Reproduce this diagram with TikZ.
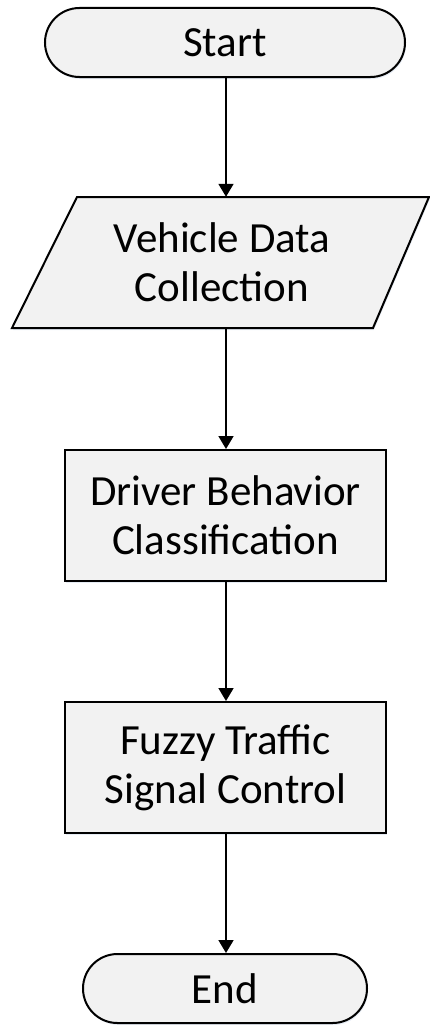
\documentclass[tikz,border=0pt]{standalone}
\usepackage{fontspec}
\setmainfont{Carlito}
\usetikzlibrary{arrows.meta,shadows}

\begin{document}
\begin{tikzpicture}[x=1pt,y=-1pt,
  every node/.style={font=\fontsize{43}{49}\selectfont, align=center, inner sep=0pt},
  softshadow/.style={drop shadow={shadow xshift=1pt, shadow yshift=-2pt, fill=shadowtint, opacity=0.35}},
  shapeline/.style={draw=black, line width=2pt, fill=boxfill, softshadow},
  terminal/.style={shapeline, rounded corners=34.5pt, minimum height=69pt},
  process/.style={shapeline, minimum width=321pt, minimum height=131pt},
  flow/.style={draw=black, line width=1.8pt, -{Triangle[width=15pt,length=13pt]}}
]
\definecolor{boxfill}{HTML}{F2F2F2}
\definecolor{shadowtint}{HTML}{B8C8E0}
\useasboundingbox (0,0) rectangle (430,1025);

% terminals and process boxes
\node[terminal, minimum width=360pt] (start) at (225,42.5) {Start};

% input/output parallelogram
\coordinate (pTL) at (77,197);
\coordinate (pTR) at (429,197);
\coordinate (pBR) at (373,328);
\coordinate (pBL) at (12,328);
\draw[shapeline, line join=miter] (pTL) -- (pTR) -- (pBR) -- (pBL) -- cycle;
\node[minimum width=250pt, minimum height=131pt] (collect) at (222,262.5) {Vehicle Data\\Collection};

\node[process] (classify) at (225.5,515.5) {Driver Behavior\\Classification};
\node[process] (fuzzy) at (225.5,767.5) {Fuzzy Traffic\\Signal Control};

\node[terminal, minimum width=284pt] (stop) at (225,988.5) {End};

% connectors
\draw[flow] (start.south -| 226,0) -- (collect.north -| 226,0);
\draw[flow] (collect.south -| 226,0) -- (classify.north -| 226,0);
\draw[flow] (classify.south -| 226,0) -- (fuzzy.north -| 226,0);
\draw[flow] (fuzzy.south -| 226,0) -- (stop.north -| 226,0);
\end{tikzpicture}
\end{document}
